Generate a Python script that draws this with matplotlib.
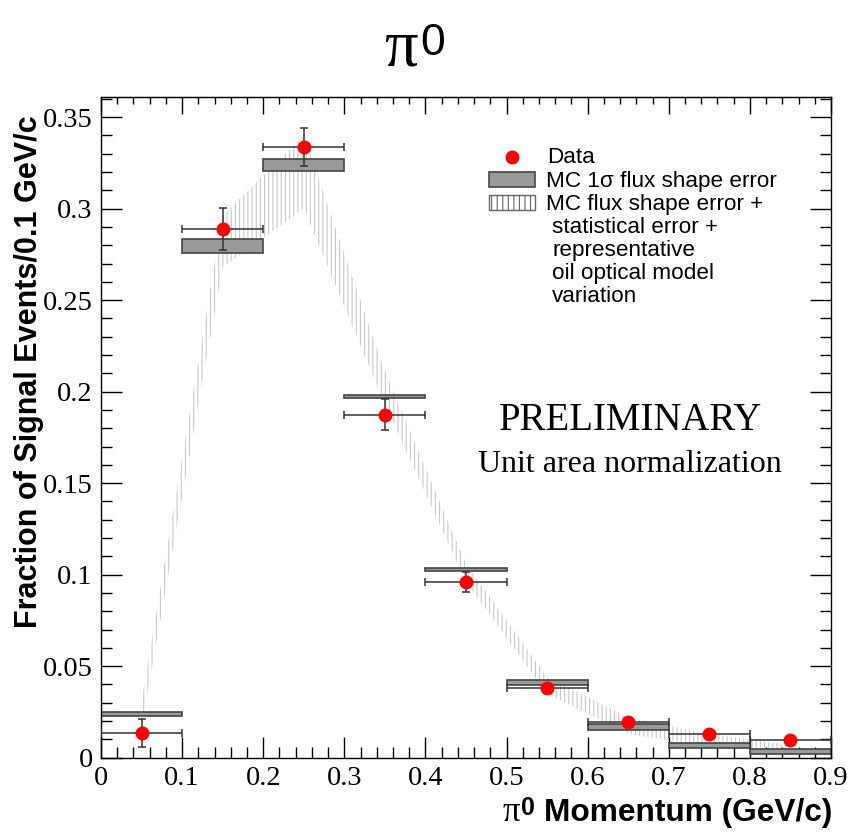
import numpy as np
import matplotlib
matplotlib.use("Agg")
import matplotlib.pyplot as plt
from matplotlib.patches import Rectangle
from matplotlib.lines import Line2D
from matplotlib.ticker import MultipleLocator, FormatStrFormatter

# pi0 momentum bins (GeV/c)
bin_lo = np.array([0.0, 0.1, 0.2, 0.3, 0.4, 0.5, 0.6, 0.7, 0.8])
bin_width = 0.1
bin_center = bin_lo + bin_width / 2

# data points (fraction of signal events per 0.1 GeV/c)
data_y = np.array([0.0135, 0.289, 0.3337, 0.1875, 0.096, 0.038, 0.0197, 0.0128, 0.0097])
data_err = np.array([0.0075, 0.0115, 0.0105, 0.0085, 0.0055, 0.0025, 0.0018, 0.0015, 0.0015])

# MC 1 sigma flux shape error boxes
mc_low = np.array([0.0230, 0.2757, 0.3207, 0.1963, 0.1020, 0.0397, 0.0150, 0.0055, 0.0020])
mc_high = np.array([0.0247, 0.2833, 0.3270, 0.1982, 0.1037, 0.0426, 0.0184, 0.0080, 0.0048])

# MC flux + stat + optical model band (at bin centres)
band_low = np.array([0.017, 0.268, 0.300, 0.193, 0.096, 0.035, 0.013, 0.006, 0.003])
band_high = np.array([0.031, 0.296, 0.340, 0.211, 0.106, 0.044, 0.022, 0.013, 0.007])

W, H = 856, 832
SANS = ["Liberation Sans", "DejaVu Sans"]
SERIF = ["Liberation Serif", "DejaVu Serif"]

plt.rcParams["hatch.linewidth"] = 0.8


def px(x):
    return x / W


def py(y):
    return 1 - y / H


fig = plt.figure(figsize=(W / 100, H / 100), dpi=100)
ax = fig.add_axes([px(101), py(757.7), px(831) - px(101), py(97) - py(757.7)])

# hatched band
ax.fill_between(bin_center, band_low, band_high, facecolor="none",
                edgecolor="#c8c8c8", hatch="||||", linewidth=0, zorder=1)

# MC boxes
ax.bar(bin_lo, mc_high - mc_low, width=bin_width, bottom=mc_low, align="edge",
       color="#999999", edgecolor="#444444", linewidth=1.2, zorder=2)

# data
ax.errorbar(bin_center, data_y, xerr=bin_width / 2, yerr=data_err, fmt="none",
            ecolor="#333333", elinewidth=1.1, capsize=3, capthick=1.1, zorder=3)
ax.plot(bin_center, data_y, "o", color="red", ms=9, mec="red", zorder=4)

ax.set_xlim(0, 0.9)
ax.set_ylim(0, 0.361)
ax.xaxis.set_major_locator(MultipleLocator(0.1))
ax.xaxis.set_minor_locator(MultipleLocator(0.02))
ax.yaxis.set_major_locator(MultipleLocator(0.05))
ax.yaxis.set_minor_locator(MultipleLocator(0.01))
ax.xaxis.set_major_formatter(FormatStrFormatter("%g"))
ax.yaxis.set_major_formatter(FormatStrFormatter("%g"))
ax.tick_params(which="both", direction="in", right=True, top=False, width=1)
ax.tick_params(which="major", length=15, pad=6)
ax.tick_params(which="minor", length=8)
for lab in ax.get_xticklabels() + ax.get_yticklabels():
    lab.set_family(SERIF)
    lab.set_fontsize(20.5)
for s in ax.spines.values():
    s.set_linewidth(1)

top = ax.secondary_xaxis("top")
top.xaxis.set_major_locator(MultipleLocator(0.1))
top.xaxis.set_minor_locator(MultipleLocator(0.02))
top.tick_params(which="both", direction="in", labeltop=False, width=1)
top.tick_params(which="major", length=12)
top.tick_params(which="minor", length=5)

# title
fig.text(px(401), py(66), "π", family=SERIF, fontsize=48, ha="center", va="baseline")
fig.text(px(420), py(55), "0", family=SANS, fontsize=32, ha="left", va="baseline")

# axis titles
fig.text(px(29), py(115), "Fraction of Signal Events/0.1 GeV/c", family=SANS,
         fontweight="bold", fontsize=22, rotation=90, ha="center", va="top")
fig.text(px(832), py(821), "Momentum (GeV/c)", family=SANS, fontweight="bold",
         fontsize=22.8, ha="right", va="baseline")
fig.text(px(511), py(821), "π", family=SERIF, fontsize=25, ha="center", va="baseline")
fig.text(px(521), py(815), "0", family=SANS, fontweight="bold", fontsize=18,
         ha="left", va="baseline")

# annotations
fig.text(px(630), py(430), "PRELIMINARY", family=SERIF, fontsize=28,
         ha="center", va="baseline")
fig.text(px(630), py(471.7), "Unit area normalization", family=SERIF, fontsize=23,
         ha="center", va="baseline")

# legend
fig.add_artist(Line2D([px(512)], [py(157)], marker="o", color="red", ms=9,
                      transform=fig.transFigure))
fig.add_artist(Rectangle((px(489), py(187.3)), px(535) - px(489), py(171.7) - py(187.3),
                         transform=fig.transFigure, facecolor="#999999",
                         edgecolor="#444444", linewidth=1.2))
fig.add_artist(Rectangle((px(489), py(210)), px(535) - px(489), py(195) - py(210),
                         transform=fig.transFigure, facecolor="white",
                         edgecolor="#666666", linewidth=1, hatch="|||"))
legend_lines = [
    (547, 163, "Data"),
    (546, 187, "MC 1σ flux shape error"),
    (546, 210, "MC flux shape error +"),
    (552, 233, "statistical error +"),
    (552, 256, "representative"),
    (552, 279, "oil optical model"),
    (552, 302, "variation"),
]
for x, y, s in legend_lines:
    fig.text(px(x), py(y), s, family=SANS, fontsize=16.2, ha="left", va="baseline")

fig.savefig("out.png", dpi=100)
